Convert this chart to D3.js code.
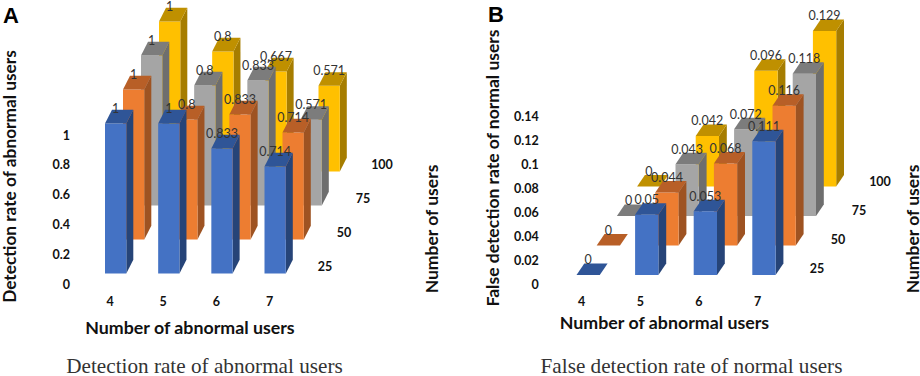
<!DOCTYPE html>
<html>
<head>
<meta charset="utf-8">
<script src="https://cdn.jsdelivr.net/npm/d3@7"></script>
<style>
  html, body { margin: 0; padding: 0; background: #fff; }
  svg { display: block; }
  text { font-family: Lato, "Open Sans", sans-serif; }
</style>
</head>
<body>
<svg id="chart" width="920" height="376"></svg>
<script>
const abnormalCounts = [4, 5, 6, 7];
const userCounts = [25, 50, 75, 100];

// one list per number of users, in order of abnormalCounts
const detection25 = [1, 1, 0.833, 0.714];
const detection50 = [1, 0.8, 0.833, 0.714];
const detection75 = [1, 0.8, 0.833, 0.571];
const detection100 = [1, 0.8, 0.667, 0.571];

const falseRate25 = [0, 0.05, 0.053, 0.111];
const falseRate50 = [0, 0.044, 0.068, 0.116];
const falseRate75 = [0, 0.043, 0.072, 0.118];
const falseRate100 = [0, 0.042, 0.096, 0.129];

const detectionTicks = [0, 0.2, 0.4, 0.6, 0.8, 1];
const falseRateTicks = [0, 0.02, 0.04, 0.06, 0.08, 0.1, 0.12, 0.14];

const frontColors = ['#4472c4', '#ed7d31', '#a5a5a5', '#ffc000'];
const topColors = ['#2f5597', '#b85f27', '#7c7c7c', '#bf9000'];
const sideColors = ['#264478', '#9e5322', '#6e6e6e', '#a67d00'];

const svg = d3.select('#chart');

const drawPanel = (p) => {
  const g = svg.append('g');

  // x and y are the screen position of a bar's front left foot
  const x = d3.scaleLinear().domain([0, 3]).range(p.xRange);
  const rowX = d3.scaleLinear().domain([0, 3]).range([0, p.rowShift[0] * 3]);
  const rowY = d3.scaleLinear().domain([0, 3]).range([p.baseY, p.baseY + p.rowShift[1] * 3]);
  const h = d3.scaleLinear().domain([0, p.unitValue]).range([0, p.unitHeight]);

  const [dx, dy] = p.depth;
  const w = p.barWidth;

  const face = (pts, fill) => {
    const path = d3.path();
    pts.forEach((q, i) => (i ? path.lineTo(q[0], q[1]) : path.moveTo(q[0], q[1])));
    path.closePath();
    g.append('path').attr('d', path.toString()).attr('fill', fill);
  };

  // back row first so the nearer bars cover it
  for (let r = p.rows.length - 1; r >= 0; r--) {
    p.rows[r].forEach((v, c) => {
      const x0 = x(c) + rowX(r);
      const base = rowY(r);
      const top = base - h(v);
      if (v > 0) {
        face([[x0 + w, base], [x0 + w + dx, base + dy], [x0 + w + dx, top + dy], [x0 + w, top]], sideColors[r]);
        face([[x0, base], [x0 + w, base], [x0 + w, top], [x0, top]], frontColors[r]);
      }
      face([[x0, top], [x0 + w, top], [x0 + w + dx, top + dy], [x0 + dx, top + dy]], topColors[r]);
    });
  }

  // value labels go on last, they overlap the bars in the original
  for (let r = p.rows.length - 1; r >= 0; r--) {
    p.rows[r].forEach((v, c) => {
      g.append('text')
        .attr('x', x(c) + rowX(r) + w / 2)
        .attr('y', rowY(r) - h(v) - 15)
        .attr('dy', '0.35em')
        .attr('text-anchor', 'middle')
        .attr('font-size', 12.5)
        .attr('fill', '#333')
        .text(v);
    });
  }

  const yAxis = d3.scaleLinear().domain(d3.extent(p.ticks)).range(p.tickRange);
  const axis = g.append('g')
    .attr('transform', `translate(${p.tickX},0)`)
    .call(d3.axisLeft(yAxis).tickValues(p.ticks).tickSize(0).tickPadding(0).tickFormat(d => d));
  axis.select('.domain').remove();
  axis.selectAll('text')
    .attr('font-size', 12.5).attr('font-weight', 700).attr('fill', '#111')
    .style('font-family', 'Lato, sans-serif');

  const tickStyle = (sel) => sel
    .attr('dy', '0.35em').attr('text-anchor', 'middle')
    .attr('font-size', 12.5).attr('font-weight', 700).attr('fill', '#111');

  abnormalCounts.forEach((d, i) => {
    g.append('text').attr('x', p.catX(i)).attr('y', 302).call(tickStyle).text(d);
  });
  userCounts.forEach((d, i) => {
    g.append('text')
      .attr('x', p.userLabelStart[0] + i * p.userLabelStep[0])
      .attr('y', p.userLabelStart[1] + i * p.userLabelStep[1])
      .call(tickStyle).text(d);
  });

  const title = (sel, size) => sel
    .attr('text-anchor', 'middle').attr('dy', '0.35em')
    .attr('font-size', size).attr('font-weight', 700).attr('fill', '#111');

  g.append('text').attr('x', p.xTitle[0]).attr('y', p.xTitle[1]).call(title, 17.8).text('Number of abnormal users');
  g.append('text').attr('transform', `translate(${p.yTitle[0]},${p.yTitle[1]}) rotate(-90)`)
    .call(title, p.yTitleSize).text(p.yLabel);
  g.append('text').attr('transform', `translate(${p.zTitle[0]},${p.zTitle[1]}) rotate(-90)`)
    .call(title, 17.5).text('Number of users');

  g.append('text')
    .attr('x', p.caption[0]).attr('y', p.caption[1])
    .attr('text-anchor', 'middle').attr('dy', '0.35em')
    .style('font-family', '"Liberation Serif", serif')
    .attr('font-size', 21.2).attr('fill', '#333')
    .text(p.captionText);

  g.append('text')
    .attr('x', p.letter[0]).attr('y', p.letter[1])
    .style('font-family', '"Liberation Sans", sans-serif')
    .attr('font-size', 22).attr('font-weight', 700).attr('fill', '#000')
    .text(p.letterText);
};

drawPanel({
  rows: [detection25, detection50, detection75, detection100],
  xRange: [105, 264.5],
  baseY: 273.5,
  rowShift: [18, -34],
  depth: [7, -13.7],
  barWidth: 21.3,
  unitValue: 1,
  unitHeight: 150,
  ticks: detectionTicks,
  tickRange: [284, 135],
  tickX: 70,
  catX: i => 110 + i * 53.2,
  userLabelStart: [325, 267],
  userLabelStep: [19, -34],
  xTitle: [190, 328],
  yTitle: [10, 176.5],
  yTitleSize: 17.3,
  yLabel: 'Detection rate of abnormal users',
  zTitle: [432, 229],
  caption: [204.5, 366],
  captionText: 'Detection rate of abnormal users',
  letter: [3, 23],
  letterText: 'A'
});

drawPanel({
  rows: [falseRate25, falseRate50, falseRate75, falseRate100],
  xRange: [576.5, 752.3],
  baseY: 275,
  rowShift: [20.2, -29.5],
  depth: [7.8, -11.5],
  barWidth: 23.3,
  unitValue: 0.1,
  unitHeight: 120.5,
  ticks: falseRateTicks,
  tickRange: [284, 116],
  tickX: 538.7,
  catX: i => 581.7 + i * 58.6,
  userLabelStart: [817, 269],
  userLabelStep: [21, -29],
  xTitle: [664.5, 323],
  yTitle: [493, 168],
  yTitleSize: 17.5,
  yLabel: 'False detection rate of normal users',
  zTitle: [913, 229],
  caption: [691.5, 366],
  captionText: 'False detection rate of normal users',
  letter: [488, 22],
  letterText: 'B'
});
</script>
</body>
</html>
